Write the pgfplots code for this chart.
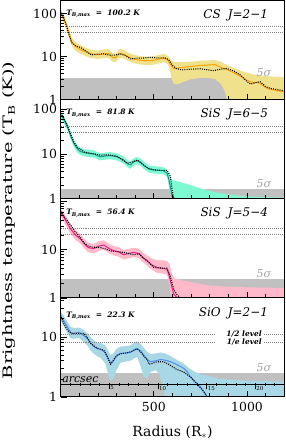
\documentclass[border=0pt]{standalone}
\usepackage{fontspec}
\setmainfont{DejaVu Serif}
\usepackage{graphicx}
\usepackage{pgfplots}
\pgfplotsset{compat=1.18}
\usepgfplotslibrary{groupplots}
\usetikzlibrary{calc}
\definecolor{csline}{RGB}{255,160,0}
\definecolor{csband}{RGB}{240,226,140}
\definecolor{sisAline}{RGB}{20,150,140}
\definecolor{sisAband}{RGB}{125,250,210}
\definecolor{sisBline}{RGB}{228,30,140}
\definecolor{sisBband}{RGB}{255,185,200}
\definecolor{sioline}{RGB}{80,140,240}
\definecolor{sioband}{RGB}{168,215,230}
\definecolor{greyband}{RGB}{192,192,192}
\definecolor{sigcol}{RGB}{160,160,160}
\pgfplotsset{
  levelline/.style={gray, line width=0.5pt, dash pattern=on 0.6pt off 1.4pt},
  model/.style={black, line width=1.1pt, dash pattern=on 1pt off 1.2pt},
}
\tikzset{
  tmaxlab/.style={anchor=west, inner sep=0pt, font=\fontsize{7.5}{9}\selectfont\bfseries\itshape},
  titlelab/.style={anchor=east, inner sep=0pt, yshift=-15bp, font=\fontsize{12}{14}\selectfont\itshape},
  siglab/.style={anchor=south, inner sep=1pt, text=sigcol, font=\fontsize{11}{13}\selectfont\itshape},
  smalltick/.style={black, line width=0.5pt},
  asl/.style={anchor=north west, inner sep=0.5pt, xshift=0.5bp, yshift=-1.2bp, font=\fontsize{5.5}{6}\selectfont},
  lvl/.style={anchor=east, inner sep=0pt, font=\fontsize{7.5}{9}\selectfont\bfseries\itshape},
}
\begin{document}
\begin{tikzpicture}
\begin{groupplot}[
 group style={group size=1 by 4, vertical sep=0pt, group name=G},
 scale only axis, width=223.5bp, height=99bp,
 xmin=0, xmax=1200, ymode=log, ymin=1,
 xtick={500,1000}, minor xtick={100,200,300,400,600,700,800,900,1100},
 xticklabels={},
 tick pos=left, tick align=inside,
 major tick length=6bp, minor tick length=3.5bp,
 every tick/.append style={black, line width=0.6pt},
 axis line style={line width=0.9pt},
 axis on top,
 /pgf/number format/assume math mode=true,
 tick label style={font=\fontsize{12.5}{14}\selectfont},
 xticklabel style={yshift=-2bp},
 ytick={1,10,100}, yticklabels={1,10,100},
 minor ytick={2,3,4,5,6,7,8,9,20,30,40,50,60,70,80,90,200},
]
% ---------------- Panel 1: CS J=2-1
\nextgroupplot[ymax=200.4]
\addplot[fill=greyband, draw=none] coordinates {(0,1)(1200,1)(1200,3.25)(0,3.25)} --cycle;
\addplot[fill=csband, draw=none] coordinates {
(0,110)(15,100)(30,70)(45,44)(60,28)(75,23)(100,19)(130,16.5)(160,14.5)(200,13.8)(230,14.5)(255,15)(280,12)(295,11.8)(315,15)(335,14.5)(360,12.5)(390,11)(420,10.4)(450,10)(490,10)(530,11)(555,11.6)(575,10.3)(590,8.5)(607,7.4)(640,7.5)(700,7.6)(750,8)(800,8.2)(830,8.3)(860,7.5)(900,6.2)(930,5.4)(970,4.6)(1000,4.2)(1030,3.9)(1060,3.7)(1100,3.5)(1150,3.4)(1200,3.3)
(1200,1)(893,1)(880,1.6)(860,2.3)(830,3.0)(790,3.2)(750,3.2)(700,3.0)(660,2.6)(630,2.3)(607,2.3)(595,3.2)(585,5.2)(575,6.6)(555,7.4)(530,7.0)(490,6.4)(450,6.4)(420,6.6)(390,7.0)(360,8.0)(335,9.2)(315,9.4)(295,7.4)(280,7.6)(255,9.4)(230,9.2)(200,8.8)(160,9.3)(130,10.4)(100,12)(75,14.4)(60,17.6)(45,28)(30,44)(15,64)(0,90)
} --cycle;
\addplot[levelline] coordinates {(0,50.1)(1200,50.1)};
\addplot[levelline] coordinates {(0,36.86)(1200,36.86)};
\addplot[csline, line width=1pt] coordinates {
(0,100.2)(15,80)(30,55)(45,35)(60,22)(75,18)(100,15)(130,13)(160,11.6)(200,11)(230,11.5)(255,11.8)(280,9.5)(295,9.3)(315,11.8)(335,11.5)(360,10)(390,8.8)(420,8.3)(450,8.0)(490,8.0)(530,8.8)(555,9.3)(575,8.2)(590,6.5)(607,5.2)(640,5.5)(700,5.9)(750,6.2)(800,6.4)(830,6.5)(860,5.6)(900,4.8)(930,4.2)(970,3.4)(1000,2.8)(1030,2.5)(1060,2.5)(1080,2.2)(1110,1.8)(1150,1.65)(1200,1.5)
};
\addplot[model] coordinates {
(0,110)(15,85)(30,55)(45,32)(60,21)(80,18)(110,16)(140,13)(165,11)(200,11.3)(230,11.6)(260,10.8)(290,10.8)(320,11.5)(350,10.5)(375,8.8)(410,9.2)(440,9.2)(480,9.6)(520,9.3)(560,9.3)(580,8.5)(600,6.2)(620,5.3)(650,4.9)(700,5.1)(750,5.2)(790,4.9)(820,4.7)(860,5.1)(890,5.3)(930,4.6)(965,3.7)(1000,2.6)(1020,2.3)(1050,2.5)(1070,2.6)(1100,2.0)(1130,1.8)(1200,1.6)
};
\node[tmaxlab] at (axis cs:30,100.2) {T\textsubscript{B,max} ~=~ 100.2 K};
\node[titlelab] at (rel axis cs:0.928,1) {CS\hspace{0.6em}J=2−1};
\node[siglab] at (axis cs:1090,3.25) {5σ};
% ---------------- Panel 2: SiS J=6-5
\nextgroupplot[ymax=163.6]
\addplot[fill=greyband, draw=none] coordinates {(0,1)(1200,1)(1200,1.65)(0,1.65)} --cycle;
\addplot[fill=sisAband, draw=none] coordinates {
(0,90)(15,74)(36,49)(55,30)(71,21)(90,15.6)(107,13.6)(130,12.7)(150,12.4)(179,12)(200,10.8)(214,10.4)(240,10.8)(268,11)(304,10.3)(339,8.8)(360,7.2)(375,6.8)(395,8.2)(411,8.5)(430,7.8)(450,6.5)(475,5.5)(500,5.3)(530,5.2)(553,5.0)(571,4.5)(580,3.6)(590,2.9)(600,2.6)(650,2.3)(700,2.0)(750,1.7)(800,1.5)(850,1.35)(928,1.2)(1000,1.12)(1100,1.08)(1200,1.05)
(1200,1)(595,1)(589,1.3)(580,2.0)(571,3.1)(553,3.5)(530,3.6)(500,3.65)(475,3.8)(450,4.5)(430,5.4)(411,5.9)(395,5.6)(375,4.7)(360,5.0)(339,6.1)(304,7.1)(268,7.6)(240,7.5)(214,7.2)(200,7.5)(179,8.3)(150,8.5)(130,8.8)(107,9.4)(90,10.8)(71,14.4)(55,21)(36,34)(15,51)(0,62)
} --cycle;
\addplot[levelline] coordinates {(0,40.9)(1200,40.9)};
\addplot[levelline] coordinates {(0,30.09)(1200,30.09)};
\addplot[sisAline, line width=1pt] coordinates {
(0,75)(15,62)(36,41)(55,25)(71,17.4)(90,13)(107,11.3)(130,10.6)(150,10.3)(179,10)(200,9)(214,8.7)(240,9.0)(268,9.2)(304,8.6)(339,7.3)(360,6.0)(375,5.7)(395,6.8)(411,7.1)(430,6.5)(450,5.4)(475,4.6)(500,4.4)(530,4.3)(553,4.2)(571,3.7)(580,2.8)(589,1.84)(598,1.1)(615,1.0)
};
\addplot[model] coordinates {
(0,80)(15,65)(36,44)(55,27)(71,18.6)(90,14)(107,12.6)(130,11)(179,10)(214,9.4)(250,9.6)(280,9.3)(304,8.8)(330,7.5)(357,6.2)(380,6.5)(411,7.3)(430,6.4)(446,5.6)(470,4.8)(500,4.4)(540,4.3)(571,4.3)(589,3.2)(598,1.6)(607,1.0)
};
\node[tmaxlab] at (axis cs:30,81.8) {T\textsubscript{B,max} ~=~ 81.8 K};
\node[titlelab] at (rel axis cs:0.928,1) {SiS\hspace{0.6em}J=6−5};
\node[siglab] at (axis cs:1090,1.65) {5σ};
% ---------------- Panel 3: SiS J=5-4
\nextgroupplot[ymax=112.8, yticklabels={1,10,{}}]
\addplot[fill=greyband, draw=none] coordinates {(0,1)(1200,1)(1200,2.48)(0,2.48)} --cycle;
\addplot[fill=sisBband, draw=none] coordinates {
(0,70)(20,56)(40,41)(54,33)(80,25)(107,20.6)(125,17)(143,14.3)(160,13.4)(179,13.1)(205,14.8)(232,15.5)(260,13.1)(286,11.8)(310,11.3)(339,9.8)(365,10.4)(393,10.9)(420,10.4)(440,8.8)(464,7.5)(490,6.5)(518,6.0)(545,6.0)(571,5.8)(585,5.0)(598,3.0)(612,2.5)(650,2.3)(700,2.1)(800,1.8)(900,1.7)(1000,1.65)(1200,1.6)
(1200,1)(592,1)(585,1.8)(571,3.0)(545,3.2)(518,3.3)(490,3.8)(464,4.6)(440,5.6)(420,6.6)(393,7.0)(365,6.6)(339,6.2)(310,7.2)(286,7.5)(260,8.4)(232,9.9)(205,9.4)(179,8.4)(160,8.6)(143,9.1)(125,10.8)(107,13.2)(80,16)(54,21)(40,26)(20,36)(0,50)
} --cycle;
\addplot[levelline] coordinates {(0,28.2)(1200,28.2)};
\addplot[levelline] coordinates {(0,20.75)(1200,20.75)};
\addplot[sisBline, line width=1pt] coordinates {
(0,59)(20,45)(40,33)(54,26.6)(80,20)(107,16.5)(125,13.5)(143,11.4)(160,10.7)(179,10.5)(205,11.8)(232,12.4)(260,10.5)(286,9.4)(310,9.0)(339,7.8)(365,8.3)(393,8.7)(420,8.3)(440,7.0)(464,5.85)(490,4.8)(518,4.25)(545,4.1)(571,3.9)(580,3.1)(589,2.25)(598,1.6)(607,1.2)(625,1.0)
};
\addplot[model] coordinates {
(0,62)(20,48)(54,32)(80,23)(107,17.5)(125,14)(143,12)(170,11.2)(214,11)(240,10.3)(268,9.4)(300,9.1)(339,8.7)(370,8.2)(393,7.8)(420,8.2)(440,6.8)(464,5.85)(482,5.0)(500,4.25)(530,4.15)(571,4.1)(589,2.8)(598,2.0)(607,1.5)(625,1.15)(643,1.0)
};
\node[tmaxlab] at (axis cs:30,56.4) {T\textsubscript{B,max} ~=~ 56.4 K};
\node[titlelab] at (rel axis cs:0.928,1) {SiS\hspace{0.6em}J=5−4};
\node[siglab] at (axis cs:1090,2.48) {5σ};
% ---------------- Panel 4: SiO J=2-1
\nextgroupplot[ymax=44.6, ytick={1,10}, yticklabels={1,10}, minor ytick={2,3,4,5,6,7,8,9,20,30,40},
  xticklabels={500,1000}]
\addplot[fill=greyband, draw=none] coordinates {(0,1)(1200,1)(1200,2.5)(0,2.5)} --cycle;
\addplot[fill=sioband, draw=none] coordinates {
(0,26)(15,23)(36,18)(55,14.5)(80,14)(98,14.3)(120,13.2)(143,11.6)(160,10)(179,8.6)(200,8)(214,7.9)(240,7.2)(255,6.0)(268,5.0)(285,5.4)(300,6.3)(321,6.9)(350,7.0)(375,7.2)(395,8.0)(411,8.4)(430,7.6)(446,6.6)(465,5.6)(482,5.2)(510,5.3)(535,5.5)(560,5.3)(589,4.8)(620,4.2)(660,3.6)(690,3.0)(720,2.6)(750,2.4)(800,2.2)(850,2.0)(950,1.9)(1050,1.85)(1200,1.8)
(1200,1)(560,1)(545,1.6)(530,2.4)(510,2.8)(482,2.6)(465,2.0)(446,2.2)(430,3.2)(411,4.6)(395,4.4)(375,4.0)(350,3.9)(321,3.7)(300,2.8)(285,2.0)(268,1.9)(255,2.4)(240,3.6)(214,4.5)(200,4.7)(179,5.2)(160,6.0)(143,7.2)(120,8.5)(98,9.6)(80,9.3)(55,9.4)(36,11.8)(15,15.5)(0,19)
} --cycle;
\addplot[levelline] coordinates {(0,11.15)(825,11.15)};
\addplot[levelline] coordinates {(1092,11.15)(1200,11.15)};
\addplot[levelline] coordinates {(0,8.2)(825,8.2)};
\addplot[levelline] coordinates {(1092,8.2)(1200,8.2)};
\addplot[sioline, line width=1pt] coordinates {
(0,22.3)(15,19)(36,14.7)(55,11.8)(63,11.4)(80,11.6)(98,11.9)(120,10.8)(143,9.4)(160,8)(179,6.85)(200,6.3)(214,6.2)(240,5.5)(255,4.4)(268,3.6)(285,4.0)(300,4.8)(321,5.3)(350,5.4)(375,5.5)(395,6.1)(411,6.45)(430,5.8)(446,5.0)(465,4.2)(482,3.86)(510,4.0)(535,4.2)(560,4.1)(589,3.86)(620,3.5)(660,3.0)(680,2.6)(696,2.17)(720,1.8)(750,1.48)(770,1.2)(786,1.0)
};
\addplot[model] coordinates {
(0,23)(15,17)(36,13)(57,11.4)(90,11.4)(125,11.4)(145,9.5)(161,7.8)(196,6.5)(232,6.0)(250,4.7)(268,3.5)(285,4.2)(304,5.0)(330,5.3)(357,5.4)(385,5.8)(411,6.3)(430,5.6)(450,4.6)(464,4.2)(475,3.5)(490,3.6)(518,3.86)(553,3.86)(580,3.5)(620,2.9)(660,2.6)(700,2.1)(750,1.42)(770,1.2)(786,1.0)
};
% arcsec scale (1 arcsec = 52.2 R*)
\draw[black, line width=0.6pt] (axis cs:0,1.64) -- (axis cs:1200,1.64);
\pgfplotsinvokeforeach{52.2,104.4,156.6,208.8,313.2,365.4,417.6,469.8,574.2,626.4,678.6,730.8,835.2,887.4,939.6,991.8,1096.2,1148.4}{
  \draw[smalltick] ([yshift=-1.5bp]axis cs:#1,1.64) -- ([yshift=1.5bp]axis cs:#1,1.64);
}
\pgfplotsinvokeforeach{261,522,783,1044}{
  \draw[smalltick] ([yshift=-5bp]axis cs:#1,1.64) -- ([yshift=1.5bp]axis cs:#1,1.64);
}
\node[asl] at (axis cs:261,1.64) {5};
\node[asl] at (axis cs:522,1.64) {10};
\node[asl] at (axis cs:783,1.64) {15};
\node[asl] at (axis cs:1044,1.64) {20};
\node[anchor=south west, inner sep=0pt, yshift=1bp, font=\fontsize{11}{12}\selectfont\itshape] at (axis cs:8,1.64) {arcsec};
\node[lvl] at (axis cs:1080,11.15) {1/2 level};
\node[lvl] at (axis cs:1080,8.2) {1/e level};
\node[tmaxlab] at (axis cs:30,22.3) {T\textsubscript{B,max} ~=~ 22.3 K};
\node[titlelab] at (rel axis cs:0.928,1) {SiO\hspace{0.6em}J=2−1};
\node[siglab] at (axis cs:1090,2.5) {5σ};
\end{groupplot}
\pgfresetboundingbox
\path[use as bounding box] ($(G c1r4.south west)+(-60.5bp,-50bp)$) rectangle ($(G c1r1.north east)+(1bp,0.5bp)$);
\node[rotate=90] at ($(G c1r1.north west)+(-51.5bp,-219.5bp)$) {\scalebox{1.5}[1]{\fontsize{13}{15}\selectfont Brightness temperature (T\textsubscript{B} (K))}};
\node at ($(G c1r4.south)+(0,-35bp)$) {\fontsize{14}{16}\selectfont Radius (R$_\ast$)};
\end{tikzpicture}
\end{document}
